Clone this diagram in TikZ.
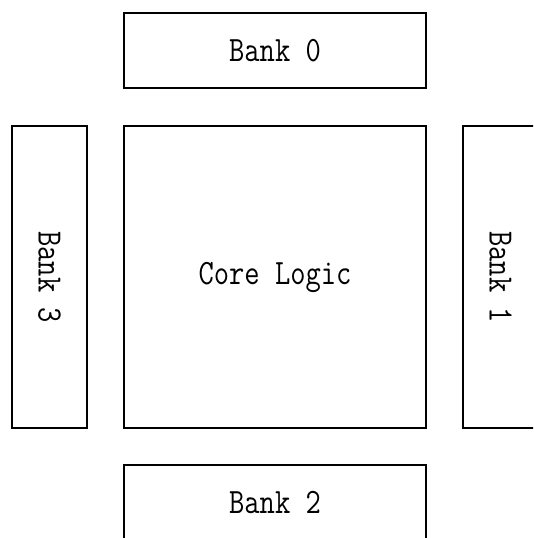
\documentclass[tikz,border=0pt]{standalone}
\usepackage{graphicx}
\newcommand{\tallmono}[1]{\scalebox{1}[1.2]{\fontsize{29.7}{32}\selectfont\ttfamily #1}}
\begin{document}
\begin{tikzpicture}[x=1pt,y=-1pt,
  blk/.style={draw=black, line width=1.2pt, fill=white, rectangle, inner sep=0pt, anchor=center},
  wide/.style={blk, minimum width=302pt, minimum height=75pt},
  side/.style={blk, minimum width=302pt, minimum height=75pt, rotate=-90},
  core/.style={blk, minimum width=302pt, minimum height=302pt}]
\useasboundingbox (0,0) rectangle (533,538);
\clip (0,0) rectangle (533,538);
\node[wide] (bank0) at (275,50.5) {\tallmono{Bank 0}};
\node[core] (corelogic) at (275,277) {\tallmono{Core Logic}};
\node[side] (bank3) at (49.5,277) {\tallmono{Bank 3}};
\node[side] (bank1) at (500.5,277) {\tallmono{Bank 1}};
\node[wide] (bank2) at (275,502.5) {\tallmono{Bank 2}};
\end{tikzpicture}
\end{document}
